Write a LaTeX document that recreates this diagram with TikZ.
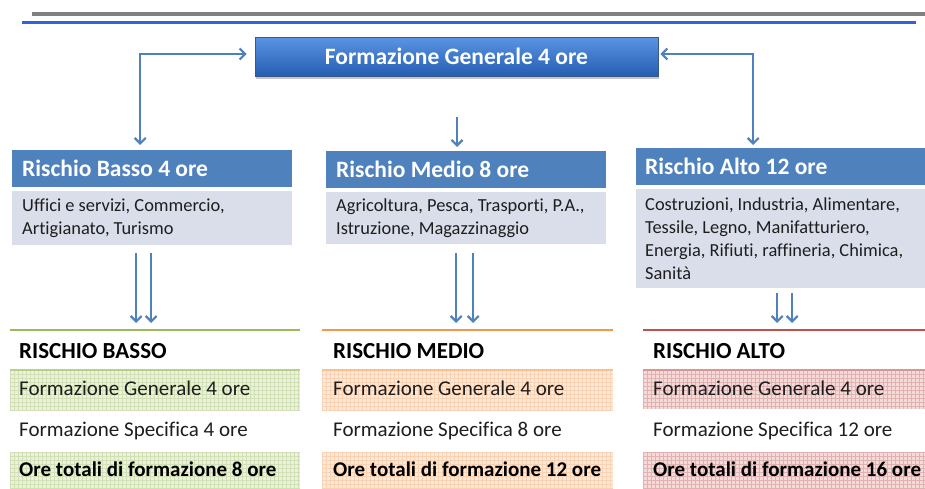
\documentclass[tikz,border=0pt]{standalone}
\usepackage{fontspec}
\setmainfont{Carlito}[Ligatures=NoCommon]
\usetikzlibrary{arrows.meta,shadows,calc}
\definecolor{hdrblue}{HTML}{4F81BD}
\definecolor{bodygray}{HTML}{D9DEEA}
\definecolor{topline}{HTML}{808080}
\definecolor{bluerule}{RGB}{47,99,220}
\definecolor{gline}{HTML}{9BBB59}
\definecolor{gfill}{HTML}{EBF1DE}
\definecolor{ggrid}{HTML}{D2E0B6}
\definecolor{oline}{HTML}{F79646}
\definecolor{ofill}{HTML}{FDE9D9}
\definecolor{ogrid}{HTML}{F9D2B4}
\definecolor{rline}{HTML}{C0504D}
\definecolor{rfill}{HTML}{F2DCDB}
\definecolor{rgrid}{HTML}{E2B2B1}
\definecolor{txt}{HTML}{1E1E1E}
\newcommand{\gridrow}[6]{%
  \fill[#5] (#1,#2) rectangle (#3,#4);
  \begin{scope}
    \clip (#1,#2) rectangle (#3,#4);
    \foreach \gx in {0,4,...,300} {\draw[#6,line width=0.5pt] (#1+\gx,#2) -- (#1+\gx,#4);}
    \foreach \gy in {0,4,...,44} {\draw[#6,line width=0.5pt] (#1,#2+\gy) -- (#3,#2+\gy);}
  \end{scope}}
\begin{document}
\begin{tikzpicture}[x=1pt,y=-1pt,
  hdr/.style={fill=hdrblue,text=white,font=\fontsize{23.5}{27}\selectfont\bfseries,
    minimum height=37pt,inner xsep=10pt,inner ysep=0pt,align=flush left,anchor=north west},
  bodybox/.style={fill=bodygray,text=txt,font=\fontsize{18.4}{23}\selectfont,
    inner xsep=10pt,inner ysep=0pt,align=flush left,anchor=north west},
  topbox/.style={draw=hdrblue!70!black,line width=0.6pt,top color={rgb,255:red,90;green,148;blue,226},
    bottom color={rgb,255:red,38;green,94;blue,178},text=white,
    font=\fontsize{23.5}{27}\selectfont\bfseries,minimum width=403pt,minimum height=39pt,
    drop shadow={shadow xshift=1pt,shadow yshift=-2.5pt,opacity=0.45}},
  conn/.style={draw=hdrblue,line width=2.2pt,arrows={-Straight Barb[length=5.5pt,width=11pt]}},
  conn2/.style={draw=hdrblue,line width=2.2pt,arrows={Straight Barb[length=5.5pt,width=11pt]-Straight Barb[length=5.5pt,width=11pt]}},
  ttitle/.style={font=\fontsize{23}{27}\selectfont\bfseries,text=black,inner sep=0pt,anchor=base west},
  trow/.style={font=\fontsize{21}{25}\selectfont,text=txt,inner sep=0pt,anchor=base west},
  trowb/.style={font=\fontsize{21}{25}\selectfont\bfseries,text=black,inner sep=0pt,anchor=base west}]
\useasboundingbox (0,0) rectangle (925,488);
% top rules
\draw[topline,line width=4pt] (32,14) -- (925,14);
\draw[bluerule,line width=3pt] (22,22) -- (916,22);
% top box
\node[topbox] (top) at (456.5,56.5) {Formazione Generale 4 ore};
% category headers and bodies
\node[hdr,minimum width=280pt,text width=260pt] (bh) at (12,150) {Rischio Basso 4 ore};
\node[bodybox,minimum width=280pt,text width=260pt,minimum height=54pt] (bb) at (12,191)
  {Uffici e servizi, Commercio,\\Artigianato, Turismo};
\node[hdr,minimum width=280pt,text width=260pt] (mh) at (326,151) {Rischio Medio 8 ore};
\node[bodybox,minimum width=280pt,text width=260pt,minimum height=52pt] (mb) at (326,192)
  {Agricoltura, Pesca, Trasporti, P.A.,\\Istruzione, Magazzinaggio};
\node[hdr,minimum width=289pt,text width=271pt,inner xsep=9pt] (ah) at (636,148) {Rischio Alto 12 ore};
\node[bodybox,minimum width=289pt,text width=271pt,inner xsep=9pt,minimum height=99pt] (ab) at (636,189)
  {Costruzioni, Industria, Alimentare,\\Tessile, Legno, Manifatturiero,\\Energia, Rifiuti, raffineria, Chimica,\\Sanità};
% connectors from top box
\draw[conn2] ($(top.west)+(-8,-2.5)$) -| ($(bh.north)+(-12,-5)$);
\draw[conn2] ($(top.east)+(2,-2.5)$) -| ($(ah.north)+(-27.5,-3)$);
\coordinate (mstart) at (457,117);
\draw[conn] (mstart) -- ($(mstart |- mh.north)+(0,-4)$);
% table rule coordinates
\coordinate (bl1) at (10,330); \coordinate (bl2) at (300,330);
\coordinate (ml1) at (322,330); \coordinate (ml2) at (613,330);
\coordinate (al1) at (643,330); \coordinate (al2) at (925,330);
% double arrows
\draw[conn] ($(bb.south)+(-16,8)$) -- ($(bb.south |- bl1)+(-16,-7)$);
\draw[conn] ($(bb.south)+(-1,8)$) -- ($(bb.south |- bl1)+(-1,-7)$);
\draw[conn] ($(mb.south)+(-10,9)$) -- ($(mb.south |- ml1)+(-10,-7)$);
\draw[conn] ($(mb.south)+(7,9)$) -- ($(mb.south |- ml1)+(7,-7)$);
\draw[conn] ($(ab.south)+(-3.5,5)$) -- ($(ab.south |- al1)+(-3.5,-7)$);
\draw[conn] ($(ab.south)+(11.5,5)$) -- ($(ab.south |- al1)+(11.5,-7)$);
% table backgrounds
\gridrow{10}{370}{300}{410}{gfill}{ggrid}
\gridrow{10}{452}{300}{488}{gfill}{ggrid}
\gridrow{322}{370}{613}{410}{ofill}{ogrid}
\gridrow{322}{452}{613}{488}{ofill}{ogrid}
\gridrow{643}{370}{925}{409}{rfill}{rgrid}
\gridrow{643}{452}{925}{488}{rfill}{rgrid}
\draw[gline!70,line width=1.5pt] (10,370) -- (300,370);
\draw[oline!60,line width=1.5pt] (322,370) -- (613,370);
\draw[rline!60,line width=1.5pt] (643,370) -- (925,370);
% coloured rules
\draw[gline,line width=2.5pt] (bl1) -- (bl2);
\draw[oline,line width=2.5pt] (ml1) -- (ml2);
\draw[rline,line width=2.5pt] (al1) -- (al2);
% table texts
\node[ttitle] (btit) at (19,358) {RISCHIO BASSO};
\node[trow] (b1) at (19,395) {Formazione Generale 4 ore};
\node[trow] (b2) at (19,436) {Formazione Specifica 4 ore};
\node[trowb] (b3) at (19,476) {Ore totali di formazione 8 ore};
\node[ttitle] (mtit) at (333,358) {RISCHIO MEDIO};
\node[trow] (m1) at (333,395) {Formazione Generale 4 ore};
\node[trow] (m2) at (333,436) {Formazione Specifica 8 ore};
\node[trowb] (m3) at (333,476) {Ore totali di formazione 12 ore};
\node[ttitle] (atit) at (653,358) {RISCHIO ALTO};
\node[trow] (a1) at (653,395) {Formazione Generale 4 ore};
\node[trow] (a2) at (653,436) {Formazione Specifica 12 ore};
\node[trowb] (a3) at (653,476) {Ore totali di formazione 16 ore};
\end{tikzpicture}
\end{document}
